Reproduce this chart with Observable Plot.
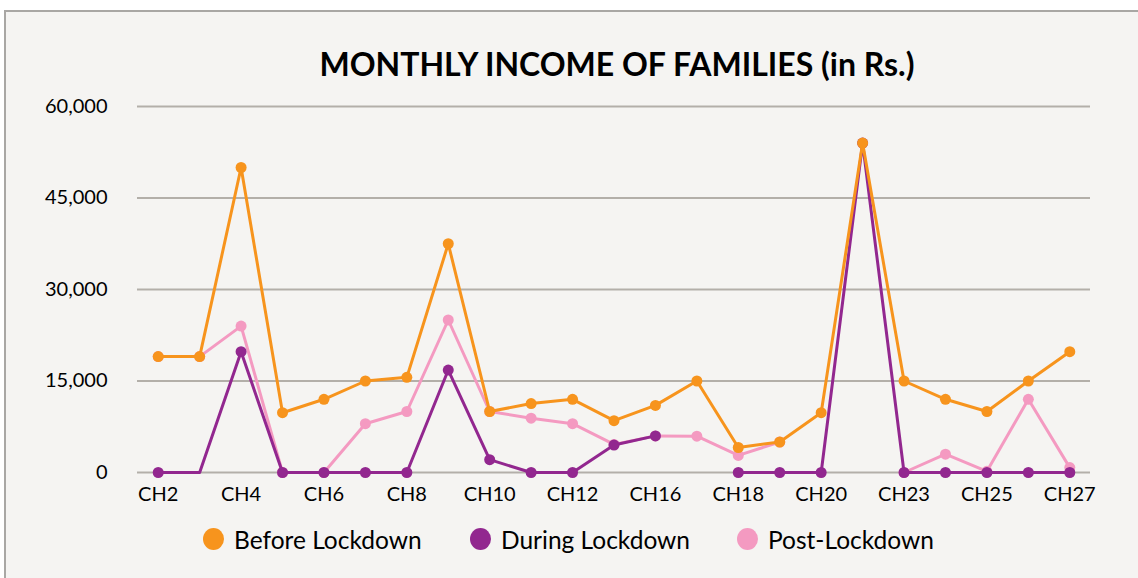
<!DOCTYPE html>
<html>
<head>
<meta charset="utf-8">
<script src="https://cdn.jsdelivr.net/npm/d3@7"></script>
<script src="https://cdn.jsdelivr.net/npm/@observablehq/plot@0.6"></script>
<style>
  html, body { margin: 0; padding: 0; background: #ffffff; overflow: hidden; width: 1138px; height: 578px; }
  #frame { position: absolute; left: 4px; top: 10px; width: 1200px; height: 620px; background: #f5f4f2; border: 2px solid #a9a7a4; box-sizing: border-box; }
  #title { position: absolute; left: 0; top: 45px; width: 1234px; text-align: center; font-family: Lato, "Open Sans", sans-serif; font-weight: 700; font-size: 32px; line-height: 1.2; color: #000; }
  #chart { position: absolute; left: 0; top: 90px; }
  #legend { position: absolute; left: 0; top: 524px; width: 1138px; font-family: Lato, "Open Sans", sans-serif; font-size: 24.5px; color: #000; }
  .item { position: absolute; top: 0; display: flex; align-items: center; height: 30px; white-space: nowrap; }
  .sw { width: 21px; height: 22px; border-radius: 50%; margin-right: 10px; }
</style>
</head>
<body>
<div id="frame"></div>
<div id="title">MONTHLY INCOME OF FAMILIES (in Rs.)</div>
<div id="chart"></div>
<div id="legend"></div>
<script>
// ---- data ----
const categories = ["CH2","CH3","CH4","CH5","CH6","CH7","CH8","CH9","CH10","CH11","CH12","CH14","CH16","CH17","CH18","CH19","CH20","CH22","CH23","CH24","CH25","CH26","CH27"];
const beforeLockdown = [19000,19000,50000,9800,12000,15000,15600,37500,10000,11300,12000,8500,11000,15000,4100,5000,9800,54000,15000,12000,10000,15000,19800];
const duringLockdown = [0,0,19800,0,0,0,0,16800,2100,0,0,4500,6000,null,0,0,0,54000,0,0,0,0,0];
const postLockdown   = [19000,19000,24000,0,0,8000,10000,25000,10000,8900,8000,4600,6000,5950,2800,5000,null,null,0,3000,200,12000,800];
const seriesNames = ["Before Lockdown","During Lockdown","Post-Lockdown"];
const seriesColors = ["#f7941d","#92278f","#f49ac1"];
const yTicks = [0,15000,30000,45000,60000];
const hiddenMarkers = [["During Lockdown","CH3"]];

// ---- build table ----
const seriesValues = [beforeLockdown, duringLockdown, postLockdown];
const rows = [];
seriesNames.forEach((s, i) => {
  categories.forEach((c, j) => rows.push({series: s, cat: c, value: seriesValues[i][j]}));
});
const isHidden = d => hiddenMarkers.some(([s, c]) => s === d.series && c === d.cat);

const drawOrder = [2, 1, 0];
const marks = [
  Plot.ruleY(yTicks, {stroke: "#b3afa9", strokeWidth: 2.2})
];
drawOrder.forEach(i => {
  const s = seriesNames[i];
  const sub = rows.filter(d => d.series === s);
  marks.push(Plot.line(sub, {x: "cat", y: "value", stroke: seriesColors[i], strokeWidth: 3, curve: "linear"}));
  marks.push(Plot.dot(sub.filter(d => d.value != null && !isHidden(d)), {x: "cat", y: "value", fill: seriesColors[i], r: 5.5}));
});
marks.push(Plot.axisY({ticks: yTicks, tickFormat: d3.format(","), tickSize: 0, tickPadding: 30, fontSize: 20, fill: "#000", label: null}));
marks.push(Plot.axisX({tickSize: 0, tickPadding: 14, fontSize: 20, fill: "#000", label: null,
  tickFormat: d => categories.indexOf(d) % 2 === 0 ? d : ""}));

const chart = Plot.plot({
  width: 1138,
  height: 420,
  marginLeft: 137,
  marginRight: 48,
  marginTop: 16,
  marginBottom: 38,
  style: {background: "transparent", fontFamily: "Lato, 'Open Sans', sans-serif", color: "#000", overflow: "visible"},
  x: {type: "point", domain: categories, padding: 0.5, round: false, axis: null},
  y: {domain: [0, 60000], axis: null},
  marks
});
document.getElementById("chart").appendChild(chart);

// ---- legend ----
const legendX = [203, 470, 737];
const legend = document.getElementById("legend");
seriesNames.forEach((s, i) => {
  const item = document.createElement("div");
  item.className = "item";
  item.style.left = legendX[i] + "px";
  item.innerHTML = `<span class="sw" style="background:${seriesColors[i]}"></span><span>${s}</span>`;
  legend.appendChild(item);
});
</script>
</body>
</html>
